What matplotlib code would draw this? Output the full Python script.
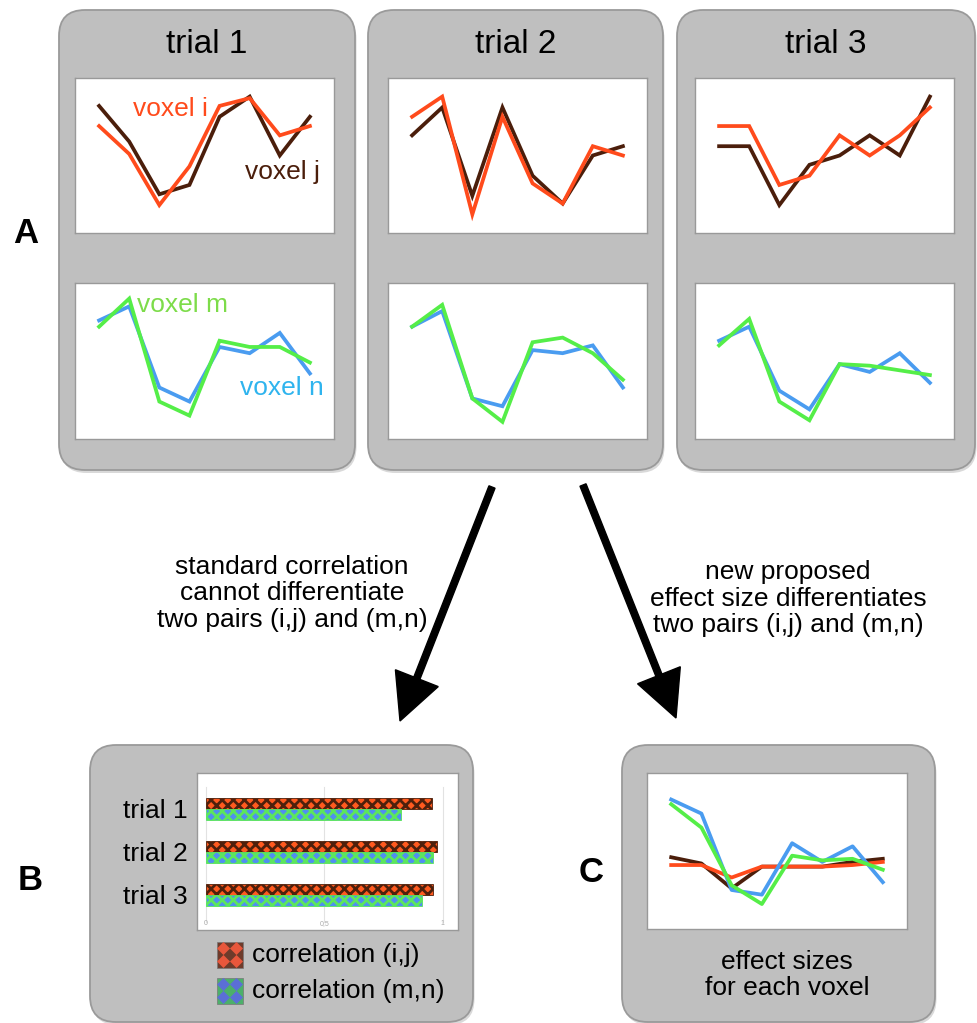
import numpy as np
import matplotlib
matplotlib.use('Agg')
import matplotlib.pyplot as plt
from matplotlib.patches import FancyBboxPatch, FancyArrow, Rectangle, Polygon

plt.rcParams['font.family'] = ['Liberation Sans', 'DejaVu Sans']
plt.rcParams['hatch.linewidth'] = 2.0

# ---------------- data ----------------
timepoints = [1, 2, 3, 4, 5, 6, 7, 8]
trials = ['trial 1', 'trial 2', 'trial 3']

voxel_i = [[69, 51, 18, 43, 82, 87, 63, 69],
           [75, 88, 12, 75, 32, 19, 56, 50],
           [69, 69, 31, 37, 63, 50, 63, 81]]
voxel_j = [[82, 59, 25, 31, 75, 88, 50, 75],
           [63, 81, 24, 81, 37, 19, 50, 56],
           [56, 56, 18, 44, 50, 63, 50, 88]]
voxel_m = [[72, 90, 24, 15, 63, 59, 59, 49],
           [72, 86, 26, 11, 62, 65, 55, 38],
           [60, 77, 24, 12, 48, 47, 44, 41]]
voxel_n = [[76, 85, 33, 24, 59, 55, 68, 42],
           [72, 82, 26, 21, 57, 55, 60, 33],
           [63, 72, 31, 19, 48, 43, 55, 36]]

effect_i = [41, 41, 33, 40, 40, 40, 41, 43]
effect_j = [46, 42, 26, 40, 40, 40, 43, 45]
effect_m = [80, 65, 28, 16, 47, 44, 45, 38]
effect_n = [83, 74, 25, 22, 55, 43, 53, 30]

corr_ij = [0.956, 0.975, 0.960]
corr_mn = [0.823, 0.960, 0.914]
corr_ticks = [0, 0.5, 1]
corr_tick_labels = ['0', '0,5', '1']
legend_labels = ['correlation (i,j)', 'correlation (m,n)']

# ---------------- style ----------------
C_I = '#ff4b1c'
C_J = '#4b1e0b'
C_M = '#55ee48'
C_N = '#4a9cf0'
LW = 2.7
BOX_FC = '#bfbfbf'
BOX_EC = '#9a9a9a'

W, H = 977, 1023
fig = plt.figure(figsize=(W / 100, H / 100), dpi=100)
bg = fig.add_axes([0, 0, 1, 1], zorder=0)
bg.set_xlim(0, W)
bg.set_ylim(H, 0)
bg.axis('off')


def px_axes(x0, y0, x1, y1, z=2):
    ax = fig.add_axes([x0 / W, 1 - y1 / H, (x1 - x0) / W, (y1 - y0) / H], zorder=z)
    ax.set_facecolor('white')
    for s in ax.spines.values():
        s.set_color('#999999')
        s.set_linewidth(1.0)
    return ax


def box(x0, y0, x1, y1):
    bg.add_patch(FancyBboxPatch((x0 + 1.5, y0 + 3), x1 - x0, y1 - y0,
                                boxstyle='round,pad=0,rounding_size=26',
                                fc='#d9d9d9', ec='none'))
    bg.add_patch(FancyBboxPatch((x0, y0), x1 - x0, y1 - y0,
                                boxstyle='round,pad=0,rounding_size=26',
                                fc=BOX_FC, ec=BOX_EC, lw=1.3))


# ---------------- panel A ----------------
box_x = [(59, 355), (368, 663), (677, 975)]
ax_x = [(75, 334), (388, 647), (695, 954)]
for k in range(3):
    bx0, bx1 = box_x[k]
    box(bx0, 10, bx1, 470)
    bg.text((bx0 + bx1) / 2, 53, trials[k], ha='center', va='baseline', fontsize=24)
    ax0, ax1 = ax_x[k]
    top = px_axes(ax0, 78, ax1, 233)
    top.plot(timepoints, voxel_j[k], color=C_J, lw=LW, solid_joinstyle='miter')
    top.plot(timepoints, voxel_i[k], color=C_I, lw=LW, solid_joinstyle='miter')
    bot = px_axes(ax0, 283, ax1, 439)
    bot.plot(timepoints, voxel_n[k], color=C_N, lw=LW, solid_joinstyle='miter')
    bot.plot(timepoints, voxel_m[k], color=C_M, lw=LW, solid_joinstyle='miter')
    for a in (top, bot):
        a.set_xlim(0.2, 8.8)
        a.set_ylim(0, 100)
        a.set_xticks([])
        a.set_yticks([])
    if k == 0:
        top.text(0.224, 0.757, 'voxel i', color=C_I, fontsize=19, transform=top.transAxes, va='baseline')
        top.text(0.656, 0.348, 'voxel j', color=C_J, fontsize=19, transform=top.transAxes, va='baseline')
        bot.text(0.24, 0.814, 'voxel m', color='#7ddc4a', fontsize=19, transform=bot.transAxes, va='baseline')
        bot.text(0.637, 0.282, 'voxel n', color='#2fb4ee', fontsize=19, transform=bot.transAxes, va='baseline')

bg.text(26, 243, 'A', ha='center', va='baseline', fontsize=25, fontweight='bold')
bg.text(30, 890, 'B', ha='center', va='baseline', fontsize=25, fontweight='bold')
bg.text(591, 882, 'C', ha='center', va='baseline', fontsize=25, fontweight='bold')

# ---------------- arrows + texts ----------------
for (xs, ys, xe, ye) in [(492, 487, 400, 721), (583, 485, 676, 718)]:
    bg.add_patch(FancyArrow(xs, ys, xe - xs, ye - ys, width=6.5, head_width=46,
                            head_length=46, length_includes_head=True,
                            fc='black', ec='black'))
bg.text(292, 593.5, 'standard correlation\ncannot differentiate\ntwo pairs (i,j) and (m,n)',
        ha='center', va='center', fontsize=19, linespacing=1.15, multialignment='center')
bg.text(788, 598.5, 'new proposed\neffect size differentiates\ntwo pairs (i,j) and (m,n)',
        ha='center', va='center', fontsize=19, linespacing=1.15, multialignment='center')

# ---------------- panel B ----------------
box(90, 745, 473, 1022)
ax_b = px_axes(197, 773, 458, 930)
yb = np.arange(len(trials))
bars1 = ax_b.barh(yb - 0.13, corr_ij, height=0.26, color='#ff5a1f', edgecolor='#4e200c',
                  hatch='xxx', lw=0.6, zorder=2)
bars2 = ax_b.barh(yb + 0.13, corr_mn, height=0.26, color='#4f8ff0', edgecolor='#5ce65c',
                  hatch='xxx', lw=0.6, zorder=2)
for b in list(bars1) + list(bars2):
    if hasattr(b, 'set_hatch_linewidth'):
        b.set_hatch_linewidth(2.0)
for v in corr_ticks:
    ax_b.axvline(v, ymin=0.053, ymax=0.913, color='#e2e2e2', lw=0.8, zorder=0)
ax_b.set_yticks(yb, trials)
ax_b.set_ylim(2.82, -0.83)
ax_b.set_xlim(-0.037, 1.065)
ax_b.tick_params(axis='y', length=0, pad=7, labelsize=19)
ax_b.set_xticks(corr_ticks, corr_tick_labels)
ax_b.tick_params(axis='x', length=0, pad=-7, labelsize=5, labelcolor='#aaaaaa')

# legend swatches: diamond checker pattern
swatches = [((217, 942), '#6e3b2b', '#e8573c'), ((217, 978), '#4cb06a', '#5b6fd6')]
for (sx, sy), base, dot in swatches:
    bg.add_patch(Rectangle((sx, sy), 26, 26, fc=base, ec='#777777', lw=0.5))
    for cx in (0.25, 0.75):
        for cy in (0.25, 0.75):
            px, py = sx + cx * 26, sy + cy * 26
            r = 6.5
            bg.add_patch(Polygon([(px - r, py), (px, py - r), (px + r, py), (px, py + r)],
                                 closed=True, fc=dot, ec='none'))
bg.text(252, 955, legend_labels[0], ha='left', va='center', fontsize=19)
bg.text(252, 991, legend_labels[1], ha='left', va='center', fontsize=19)

# ---------------- panel C ----------------
box(622, 745, 935, 1022)
ax_c = px_axes(647, 773, 907, 929)
ax_c.plot(timepoints, effect_j, color=C_J, lw=LW)
ax_c.plot(timepoints, effect_i, color=C_I, lw=LW)
ax_c.plot(timepoints, effect_n, color=C_N, lw=LW)
ax_c.plot(timepoints, effect_m, color=C_M, lw=LW)
ax_c.set_xlim(0.2, 8.8)
ax_c.set_ylim(0, 100)
ax_c.set_xticks([])
ax_c.set_yticks([])
bg.text(787, 975, 'effect sizes\nfor each voxel', ha='center', va='center',
        fontsize=19, linespacing=1.1, multialignment='center')

fig.savefig('out.png', dpi=100)
